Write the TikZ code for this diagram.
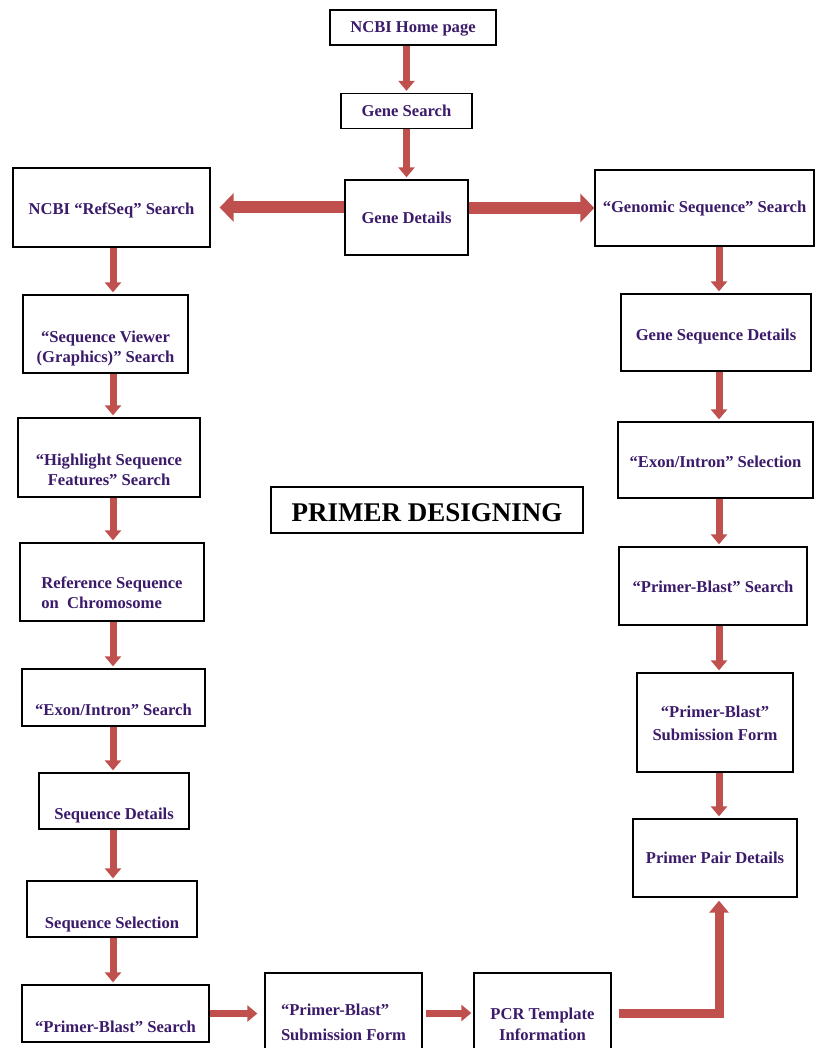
\documentclass[tikz,border=0pt]{standalone}
\usepackage{fontspec}
\setmainfont{Liberation Serif}
\usetikzlibrary{arrows.meta}

\definecolor{arrred}{HTML}{C0504D}
\definecolor{txtpurple}{HTML}{3B1B6A}

\begin{document}
\begin{tikzpicture}[x=1pt, y=-1pt,
    box/.style={draw, line width=1.3pt, inner sep=0pt, fill=white, text=txtpurple,
        font=\fontsize{16.6}{20}\selectfont\bfseries, text depth=0pt},
    arr/.style={draw=arrred, line width=7pt, shorten >=2pt, -{Triangle[width=16pt,length=10pt]}},
    bigarr/.style={draw=arrred, line width=12pt, -{Triangle[width=28pt,length=14pt]}},
    elbowarr/.style={draw=arrred, line width=9pt, shorten >=3pt, -{Triangle[width=19pt,length=12pt]}}]
    \useasboundingbox (0,0) rectangle (817,1048);
    \fill[white] (0,0) rectangle (817,1048);
    \clip (0,0) rectangle (817,1048);

    \coordinate (lcol) at (113,0);
    \coordinate (rcol) at (719,0);

    % top
    \node[box, minimum width=166pt, minimum height=35pt, text height=11pt] (home) at (413,27.5) {NCBI Home page};
    \node[box, minimum width=131pt, minimum height=35pt, text height=12pt] (gsearch) at (406.5,111) {Gene Search};
    \node[box, minimum width=123pt, minimum height=75pt, text height=13pt] (gdet) at (406.5,217.5) {Gene Details};

    % left column
    \node[box, minimum width=197pt, minimum height=79pt, text height=15pt] (refseq) at (111.5,207.5) {NCBI “RefSeq” Search};
    \node[box, minimum width=165pt, minimum height=78pt, align=center, text height=60pt, text depth=4pt] (sview) at (105.5,334) {“Sequence Viewer\\(Graphics)” Search};
    \node[box, minimum width=182pt, minimum height=79pt, align=center, text height=59pt, text depth=4pt] (highlight) at (109,457.5) {“Highlight Sequence\\Features” Search};
    \node[box, minimum width=184pt, minimum height=78pt, align=left, text height=56pt, text depth=4pt] (refchr) at (112,582) {Reference Sequence\\on~ Chromosome};
    \node[box, minimum width=183pt, minimum height=57pt, text height=35pt] (exsearch) at (113.5,697.5) {“Exon/Intron” Search};
    \node[box, minimum width=150pt, minimum height=56pt, text height=36pt] (sdet) at (114,801) {Sequence Details};
    \node[box, minimum width=170pt, minimum height=56pt, text height=38pt] (ssel) at (112,909) {Sequence Selection};
    \node[box, minimum width=187pt, minimum height=57pt, text height=37pt] (pbsearch) at (115.5,1013.5) {“Primer-Blast” Search};

    % bottom row
    \node[box, minimum width=157pt, minimum height=80pt, align=left, text height=58pt, text depth=4pt] (subform) at (343.5,1013) {“Primer-Blast”\\[5pt]Submission Form};
    \node[box, minimum width=137pt, minimum height=80pt, align=center, text height=58pt, text depth=4pt] (pcr) at (542.5,1013) {PCR Template\\[1pt]Information};

    % right column
    \node[box, minimum width=219pt, minimum height=76pt, text height=10pt] (genomic) at (704.5,208) {“Genomic Sequence” Search};
    \node[box, minimum width=190pt, minimum height=77pt, text height=15pt] (gsdet) at (716,332.5) {Gene Sequence Details};
    \node[box, minimum width=195pt, minimum height=76pt, text height=14pt] (exsel) at (715.5,460) {“Exon/Intron” Selection};
    \node[box, minimum width=188pt, minimum height=78pt, text height=12pt] (pbright) at (713,586) {“Primer-Blast” Search};
    \node[box, minimum width=156pt, minimum height=99pt, align=center, text height=39pt, text depth=4pt] (subright) at (715,722.5) {“Primer-Blast”\\[3pt]Submission Form};
    \node[box, minimum width=164pt, minimum height=78pt, text height=10pt] (ppd) at (715,858) {Primer Pair Details};

    \node[draw, line width=1.3pt, inner sep=0pt, minimum width=312pt, minimum height=46pt,
        font=\fontsize{27}{30}\selectfont\bfseries, text height=22pt, text depth=0pt] (title) at (427,510) {PRIMER DESIGNING};

    % arrows
    \draw[arr] (home.south -| gsearch.north) -- (gsearch.north);
    \draw[arr] (gsearch.south) -- (gdet.north);
    \draw[bigarr, shorten >=9pt] (refseq.east -| gdet.west) -- (refseq.east);
    \draw[bigarr] (genomic.west -| gdet.east) -- (genomic.west);

    \draw[arr] (refseq.south -| lcol) -- (sview.north -| lcol);
    \draw[arr] (sview.south -| lcol) -- (highlight.north -| lcol);
    \draw[arr] (highlight.south -| lcol) -- (refchr.north -| lcol);
    \draw[arr] (refchr.south -| lcol) -- (exsearch.north -| lcol);
    \draw[arr] (exsearch.south -| lcol) -- (sdet.north -| lcol);
    \draw[arr] (sdet.south -| lcol) -- (ssel.north -| lcol);
    \draw[arr] (ssel.south -| lcol) -- (pbsearch.north -| lcol);

    \draw[arr, shorten >=7pt] (pbsearch.east) -- (pbsearch.east -| subform.west);
    \draw[arr, shorten <=3pt] (subform.east) -- (pcr.west);
    \draw[elbowarr] ([xshift=7pt]pcr.east) -| (ppd.south -| rcol);

    \draw[arr] (genomic.south -| rcol) -- (gsdet.north -| rcol);
    \draw[arr] (gsdet.south -| rcol) -- (exsel.north -| rcol);
    \draw[arr] (exsel.south -| rcol) -- (pbright.north -| rcol);
    \draw[arr] (pbright.south -| rcol) -- (subright.north -| rcol);
    \draw[arr] (subright.south -| rcol) -- (ppd.north -| rcol);
\end{tikzpicture}
\end{document}
